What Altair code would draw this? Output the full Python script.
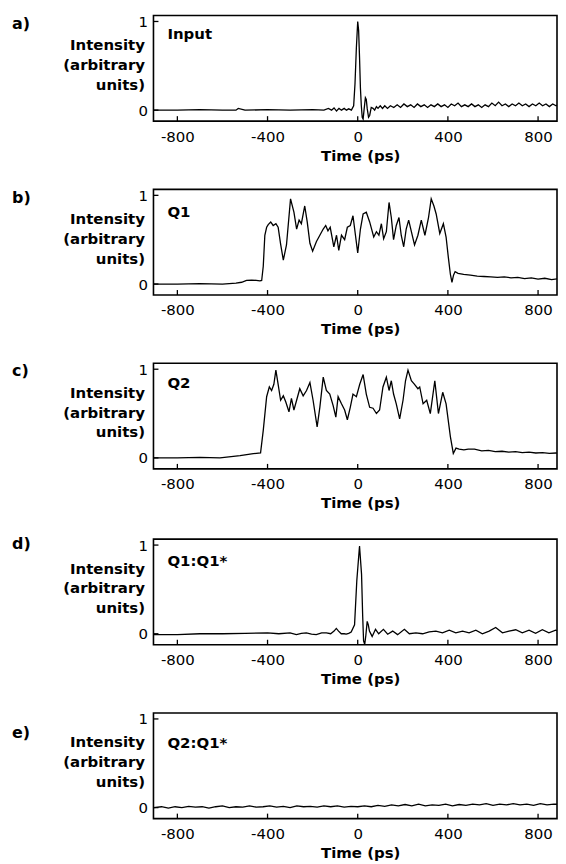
import altair as alt
import pandas as pd

# ---------------- data ----------------
x_ticks = [-800, -400, 0, 400, 800]
y_ticks = [0, 1]
panel_letters = ["a)", "b)", "c)", "d)", "e)"]
panel_names = ["Input", "Q1", "Q2", "Q1:Q1*", "Q2:Q1*"]

# a) Input
a_t = [-906, -800, -700, -600, -540, -530, -500, -400, -300, -200, -150, -130, -116, -105, -94,
       -83, -72, -60, -50, -40, -28, -18, -12, -6, 0, 4, 8, 12, 16, 20, 24, 28, 34, 38, 42, 48,
       53, 60, 68, 75, 83, 90, 100, 110, 120, 132, 145, 160, 175, 190, 205, 220, 235, 250, 265,
       280, 295, 310, 325, 340, 355, 370, 385, 400, 415, 430, 445, 460, 475, 490, 505, 520, 535,
       550, 565, 580, 595, 610, 625, 640, 655, 670, 685, 700, 715, 730, 745, 760, 775, 790, 805,
       820, 835, 850, 865, 880, 895, 906]
a_i = [0.0, 0.0, 0.005, 0.0, 0.0, 0.02, 0.0, 0.005, 0.0, 0.005, 0.0, 0.02, 0.0, 0.025, -0.01,
       0.02, 0.0, 0.02, 0.0, 0.015, 0.0, 0.05, 0.3, 0.7, 1.0, 0.9, 0.6, 0.25, 0.05, -0.08, -0.1,
       0.0, 0.14, 0.12, 0.02, -0.08, -0.06, 0.03, 0.02, 0.0, 0.04, 0.02, 0.05, 0.02, 0.05, 0.02,
       0.05, 0.03, 0.06, 0.03, 0.07, 0.04, 0.06, 0.03, 0.07, 0.04, 0.06, 0.03, 0.06, 0.04, 0.07,
       0.04, 0.06, 0.03, 0.07, 0.05, 0.08, 0.04, 0.06, 0.04, 0.07, 0.04, 0.06, 0.03, 0.06, 0.04,
       0.08, 0.05, 0.09, 0.05, 0.07, 0.04, 0.07, 0.05, 0.08, 0.05, 0.07, 0.04, 0.07, 0.05, 0.08,
       0.05, 0.07, 0.04, 0.07, 0.05, 0.07, 0.05]

# b) Q1
b_t = [-906, -800, -700, -600, -540, -515, -493, -470, -450, -434, -426, -419, -412, -404, -397,
       -386, -375, -363, -353, -342, -330, -316, -298, -283, -271, -260, -250, -235, -224, -212,
       -200, -183, -168, -153, -142, -132, -122, -106, -94, -84, -72, -58, -46, -33, -21, -10, 0,
       12, 24, 38, 53, 71, 83, 94, 105, 115, 127, 139, 149, 159, 171, 183, 193, 204, 215, 226,
       238, 252, 267, 282, 298, 314, 326, 338, 348, 364, 380, 392, 402, 411, 418, 425, 432, 445,
       470, 500, 530, 560, 590, 620, 650, 680, 710, 740, 770, 800, 830, 860, 890, 906]
b_i = [0.0, 0.0, 0.005, 0.0, 0.01, 0.02, 0.04, 0.045, 0.04, 0.035, 0.04, 0.2, 0.55, 0.64, 0.67,
       0.70, 0.66, 0.68, 0.64, 0.45, 0.27, 0.44, 0.96, 0.81, 0.62, 0.72, 0.68, 0.88, 0.70, 0.46,
       0.37, 0.48, 0.55, 0.62, 0.66, 0.60, 0.64, 0.42, 0.55, 0.38, 0.55, 0.50, 0.64, 0.66, 0.77,
       0.55, 0.35, 0.62, 0.79, 0.81, 0.70, 0.53, 0.59, 0.55, 0.68, 0.51, 0.59, 0.92, 0.75, 0.50,
       0.66, 0.75, 0.55, 0.42, 0.62, 0.72, 0.59, 0.44, 0.55, 0.72, 0.55, 0.75, 0.96, 0.88, 0.79,
       0.57, 0.68, 0.53, 0.30, 0.11, 0.02, 0.10, 0.14, 0.12, 0.11, 0.10, 0.09, 0.085, 0.08, 0.075,
       0.08, 0.07, 0.075, 0.06, 0.07, 0.055, 0.065, 0.05, 0.06, 0.055]

# c) Q2
c_t = [-906, -800, -700, -611, -522, -463, -431, -419, -404, -392, -382, -372, -363, -353, -342,
       -330, -319, -305, -294, -283, -271, -257, -242, -227, -212, -198, -180, -168, -153, -139,
       -124, -109, -97, -87, -72, -58, -46, -33, -21, -6, 9, 24, 38, 53, 68, 83, 97, 112, 127,
       139, 149, 159, 171, 186, 201, 212, 223, 238, 252, 267, 275, 290, 306, 322, 342, 358, 377,
       392, 411, 424, 436, 450, 471, 490, 518, 550, 580, 610, 640, 670, 700, 730, 760, 790, 820,
       850, 880, 906]
c_i = [0.0, 0.0, 0.005, 0.0, 0.026, 0.048, 0.056, 0.31, 0.69, 0.80, 0.76, 0.83, 0.99, 0.83, 0.65,
       0.70, 0.63, 0.52, 0.67, 0.54, 0.65, 0.78, 0.70, 0.76, 0.85, 0.65, 0.35, 0.57, 0.91, 0.76,
       0.72, 0.59, 0.46, 0.69, 0.61, 0.54, 0.43, 0.57, 0.72, 0.69, 0.83, 0.94, 0.72, 0.57, 0.56,
       0.50, 0.54, 0.80, 0.91, 0.76, 0.87, 0.72, 0.61, 0.44, 0.65, 0.87, 0.99, 0.87, 0.83, 0.78,
       0.80, 0.61, 0.65, 0.50, 0.87, 0.50, 0.74, 0.61, 0.24, 0.05, 0.11, 0.10, 0.09, 0.10, 0.10,
       0.08, 0.085, 0.07, 0.075, 0.065, 0.07, 0.06, 0.065, 0.055, 0.06, 0.05, 0.055, 0.05]

# d) Q1:Q1*
d_t = [-906, -800, -700, -600, -500, -400, -350, -300, -272, -250, -228, -205, -184, -160, -139,
       -120, -105, -95, -85, -73, -60, -51, -40, -29, -14, -4, 8, 17, 22, 26, 31, 36, 42, 47, 52,
       64, 79, 93, 114, 133, 155, 177, 207, 229, 258, 288, 317, 347, 376, 406, 435, 465, 494, 524,
       553, 583, 612, 642, 671, 701, 730, 760, 789, 819, 848, 878, 906]
d_i = [-0.01, -0.01, 0.0, 0.0, 0.005, 0.01, 0.0, 0.01, -0.01, 0.005, 0.01, -0.005, -0.01, 0.01,
       0.01, 0.0, 0.03, 0.06, 0.03, 0.0, 0.0, -0.005, 0.005, 0.02, 0.1, 0.6, 0.99, 0.67, 0.2,
       -0.08, -0.12, -0.02, 0.14, 0.1, 0.03, -0.03, 0.05, 0.0, 0.05, -0.005, 0.03, -0.01, 0.05,
       0.0, 0.01, 0.0, 0.02, 0.03, 0.01, 0.04, 0.01, 0.03, 0.01, 0.04, 0.0, 0.03, 0.07, 0.01,
       0.03, 0.045, 0.01, 0.04, 0.005, 0.045, 0.01, 0.04, 0.02]

# e) Q2:Q1*
e_t = [-906, -870, -840, -810, -780, -750, -720, -690, -660, -630, -600, -570, -540, -510, -480,
       -450, -420, -390, -360, -330, -300, -270, -240, -210, -180, -150, -120, -90, -60, -30, 0,
       30, 60, 90, 120, 150, 180, 210, 240, 270, 300, 330, 360, 390, 420, 450, 480, 510, 540, 570,
       600, 630, 660, 690, 720, 750, 780, 810, 840, 870, 906]
e_i = [0.0, 0.01, -0.005, 0.01, 0.0, 0.015, 0.005, 0.01, -0.005, 0.01, 0.02, 0.0, 0.01, 0.005,
       0.02, 0.005, 0.01, 0.02, 0.005, 0.015, 0.0, 0.02, 0.01, 0.015, 0.005, 0.02, 0.01, 0.02,
       0.005, 0.015, 0.01, 0.02, 0.01, 0.025, 0.015, 0.03, 0.02, 0.035, 0.02, 0.04, 0.02, 0.03,
       0.025, 0.04, 0.02, 0.035, 0.025, 0.04, 0.03, 0.045, 0.025, 0.04, 0.03, 0.045, 0.03, 0.04,
       0.025, 0.045, 0.03, 0.04, 0.035]

series = [(a_t, a_i), (b_t, b_i), (c_t, c_i), (d_t, d_i), (e_t, e_i)]
letter_y = [9, 9, 8, 5, 20]
name_y = [19, 23, 20, 22, 30]

# ---------------- layout ----------------
W, H = 405, 106
XDOM = [-906, 884]
YDOM = [-0.124, 1.067]
FONT = "DejaVu Sans"


def panel(k):
    t, i = series[k]
    xs = alt.Scale(domain=XDOM, nice=False, zero=False)
    ys = alt.Scale(domain=YDOM, nice=False, zero=False)
    df = pd.DataFrame({"t": t, "i": i})
    line = alt.Chart(df).mark_line(color="black", strokeWidth=1.3, clip=True).encode(
        x=alt.X("t:Q", scale=xs, axis=alt.Axis(
            values=x_ticks, labelExpr="'' + datum.value", title="Time (ps)",
            labelFontSize=15, labelPadding=8,
            tickSize=0, domain=False, grid=False, titleFontSize=15, titleFontWeight="bold",
            titlePadding=4, titleX=W / 2 + 5, labelColor="black", titleColor="black",
            labelFont=FONT, titleFont=FONT)),
        y=alt.Y("i:Q", scale=ys, axis=alt.Axis(
            values=y_ticks, labelExpr="'' + datum.value",
            title=["Intensity", "(arbitrary", "units)"], labelFontSize=15,
            labelPadding=6, tickSize=0, domain=False, grid=False, titleAngle=0,
            titleAlign="right", titleBaseline="middle", titleX=-9, titleY=29,
            titleLineHeight=20, titleFontSize=15, titleFontWeight="bold",
            labelColor="black", titleColor="black", labelFont=FONT, titleFont=FONT)),
    )
    xt = alt.Chart(pd.DataFrame({"t": x_ticks})).mark_rule(color="black", strokeWidth=1.3).encode(
        x=alt.X("t:Q", scale=xs), y=alt.value(H), y2=alt.value(H - 5))
    yt = alt.Chart(pd.DataFrame({"v": y_ticks})).mark_rule(color="black", strokeWidth=1.3).encode(
        y=alt.Y("v:Q", scale=ys), x=alt.value(0), x2=alt.value(5))
    letter = alt.Chart(pd.DataFrame({"s": [panel_letters[k]]})).mark_text(
        align="left", baseline="middle", fontSize=16, fontWeight="bold", font=FONT,
        color="black").encode(x=alt.value(-142), y=alt.value(letter_y[k]), text="s:N")
    name = alt.Chart(pd.DataFrame({"s": [panel_names[k]]})).mark_text(
        align="left", baseline="middle", fontSize=15, fontWeight="bold", font=FONT,
        color="black").encode(x=alt.value(14), y=alt.value(name_y[k]), text="s:N")
    return alt.layer(line, xt, yt, letter, name).properties(width=W, height=H)


chart = alt.vconcat(*[panel(k) for k in range(5)], spacing=23.5).properties(
    padding={"left": 3, "top": 4, "right": 0, "bottom": 5},
    background="white",
).configure_view(stroke="black", strokeWidth=1.6)

chart.save("out.html", embed_options={"renderer": "svg", "actions": False})
